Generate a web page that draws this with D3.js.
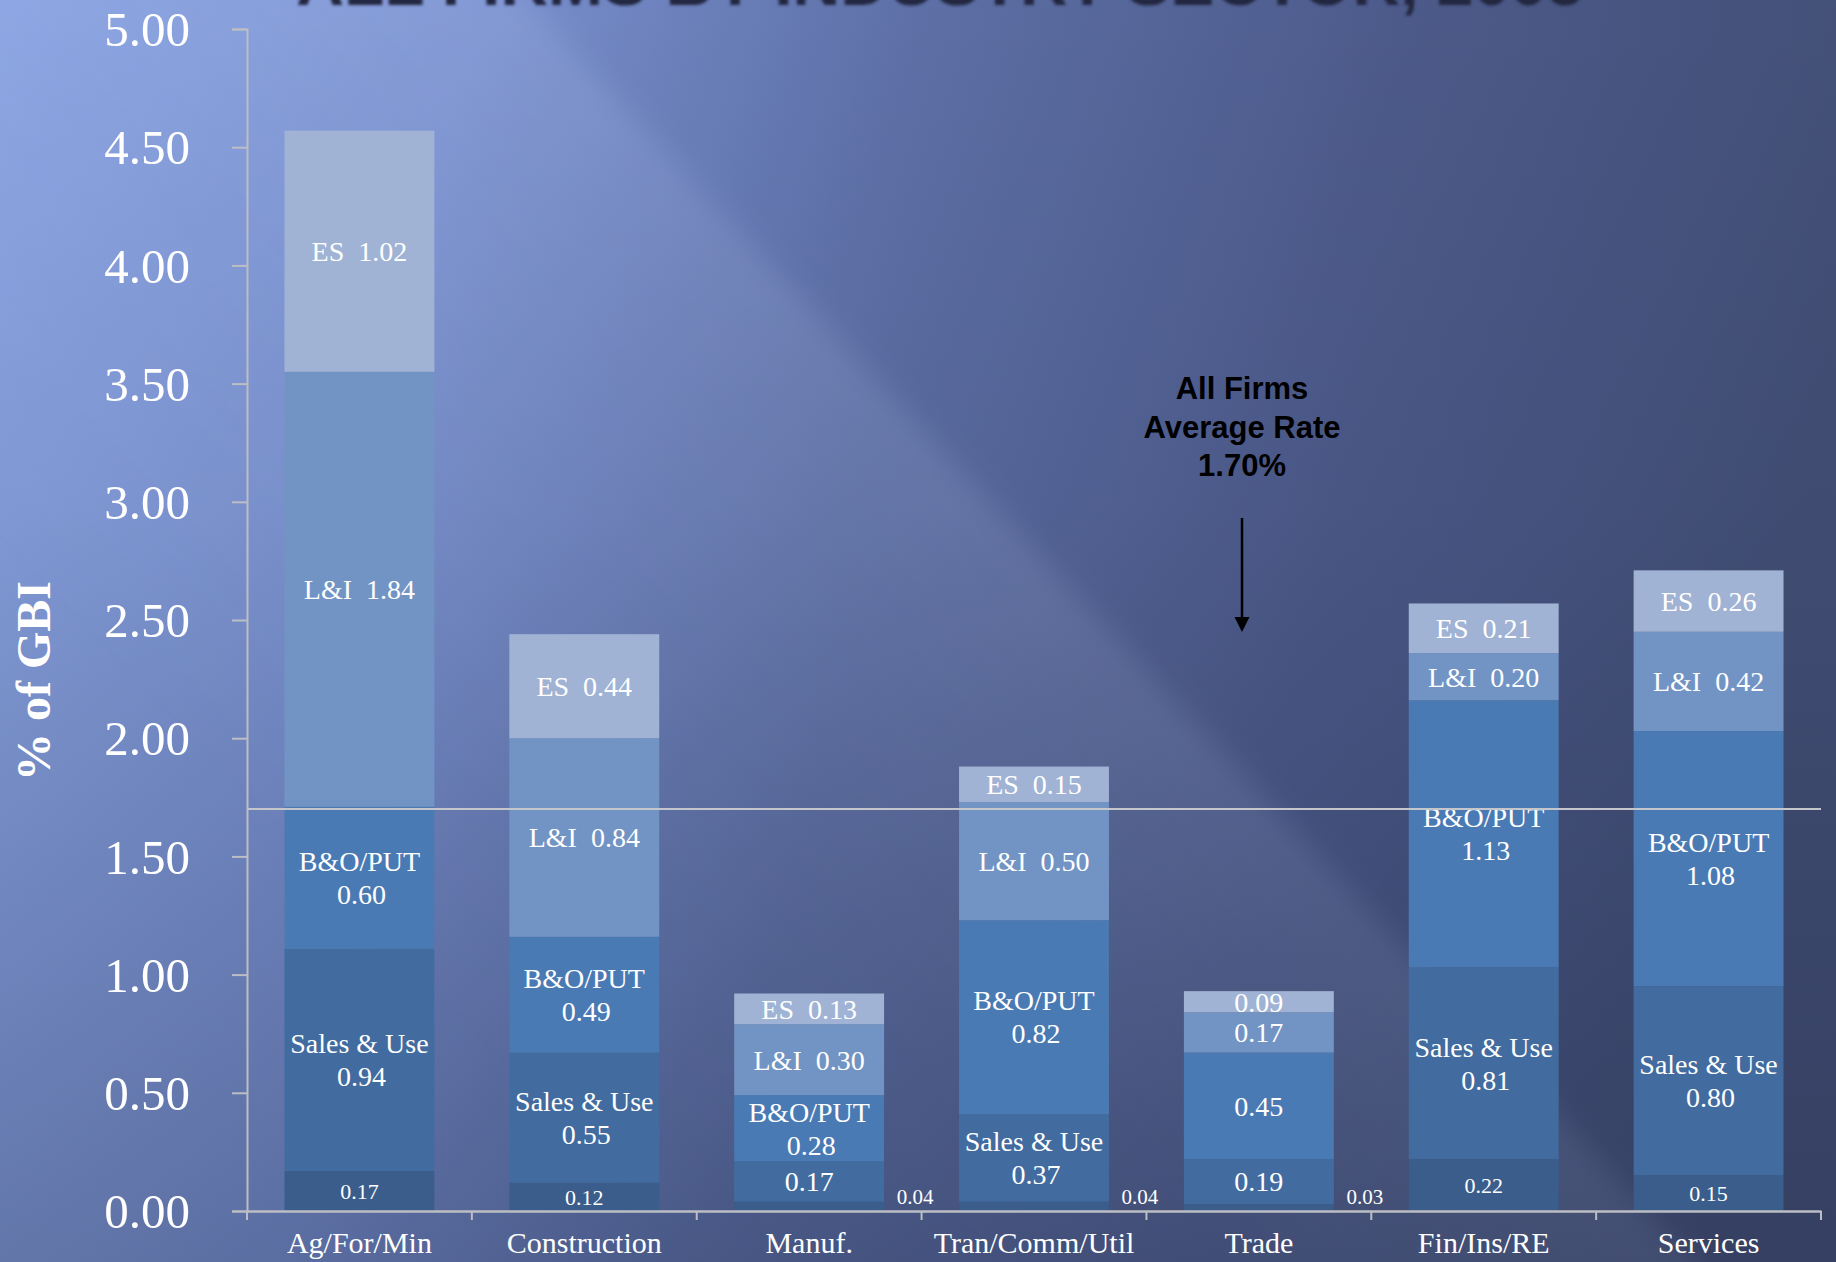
<!DOCTYPE html>
<html><head><meta charset="utf-8">
<script src="https://cdn.jsdelivr.net/npm/d3@7"></script>
<style>html,body{margin:0;padding:0;background:#5a6a9e;overflow:hidden}
text{white-space:pre}</style>
</head><body><svg id="chart" width="1836" height="1262"></svg>
<script>
// ---------- data ----------
const categories = ["Ag/For/Min","Construction","Manuf.","Tran/Comm/Util","Trade","Fin/Ins/RE","Services"];
const seriesNames = ["Other","Sales & Use","B&O/PUT","L&I","ES"];
const otherVals    = [0.17,0.12,0.04,0.04,0.03,0.22,0.15];
const salesUseVals = [0.94,0.55,0.17,0.37,0.19,0.81,0.80];
const boPutVals    = [0.60,0.49,0.28,0.82,0.45,1.13,1.08];
const liVals       = [1.84,0.84,0.30,0.50,0.17,0.20,0.42];
const esVals       = [1.02,0.44,0.13,0.15,0.09,0.21,0.26];
// whether the series name is written in the segment label
const salesUseNamed = [1,1,0,1,0,1,1];
const boPutNamed    = [1,1,1,1,0,1,1];
const liNamed       = [1,1,1,1,0,1,1];
const esNamed       = [1,1,1,1,0,1,1];
const otherOutside  = [0,0,1,1,1,0,0];
const yTickValues = [0,0.5,1,1.5,2,2.5,3,3.5,4,4.5,5];
const avgRate = 1.70;
const annotationLines = ["All Firms","Average Rate","1.70%"];
const titleText = "ALL FIRMS BY INDUSTRY SECTOR, 2005";
const yAxisTitle = "% of GBI";
const seriesColors = ["#3a5d8b","#426c9f","#4a7ab4","#7294c4","#a0b3d4"];

// ---------- setup ----------
const W = 1836, H = 1262;
const svg = d3.select("#chart");
const defs = svg.append("defs");

const bg = defs.append("linearGradient").attr("id","bg").attr("gradientUnits","userSpaceOnUse")
  .attr("x1",0).attr("y1",0).attr("x2",W).attr("y2",300);
[[0,"#8aa4e2"],[0.25,"#7990cf"],[0.5,"#5c6ea4"],[0.75,"#4c5a8a"],[1,"#434f76"]]
  .forEach(([o,c])=>bg.append("stop").attr("offset",o).attr("stop-color",c));

const band = defs.append("linearGradient").attr("id","band").attr("gradientUnits","userSpaceOnUse")
  .attr("x1",1100).attr("y1",620).attr("x2",560).attr("y2",1140);
band.append("stop").attr("offset",0).attr("stop-color","#c8d6ff").attr("stop-opacity",0.15);
band.append("stop").attr("offset",0.5).attr("stop-color","#c8d6ff").attr("stop-opacity",0.06);
band.append("stop").attr("offset",1).attr("stop-color","#c8d6ff").attr("stop-opacity",0);

const vdark = defs.append("linearGradient").attr("id","vdark").attr("x1",0).attr("y1",0).attr("x2",0).attr("y2",1);
vdark.append("stop").attr("offset",0).attr("stop-color","#101830").attr("stop-opacity",0);
vdark.append("stop").attr("offset",0.4).attr("stop-color","#101830").attr("stop-opacity",0.06);
vdark.append("stop").attr("offset",1).attr("stop-color","#101830").attr("stop-opacity",0.28);

const blur = defs.append("filter").attr("id","blur").attr("x","-5%").attr("y","-50%").attr("width","110%").attr("height","200%");
blur.append("feGaussianBlur").attr("stdDeviation",1.6);
const soft = defs.append("filter").attr("id","soft").attr("x","-20%").attr("y","-20%").attr("width","140%").attr("height","140%");
soft.append("feGaussianBlur").attr("stdDeviation",14);

svg.append("rect").attr("width",W).attr("height",H).attr("fill","url(#bg)");
svg.append("path").attr("d","M-100,-50 L480,-50 L1740,1312 L-100,1312 Z").attr("fill","url(#band)").attr("filter","url(#soft)");
svg.append("rect").attr("width",W).attr("height",H).attr("fill","url(#vdark)");

// title (clipped at top edge in the original)
svg.append("text").attr("x",940).attr("y",5).attr("text-anchor","middle")
  .attr("font-family","'Liberation Sans',Arial,sans-serif").attr("font-weight","bold")
  .attr("font-size",66).attr("fill","#23283f").attr("filter","url(#blur)").text(titleText);

// ---------- scales ----------
const x = d3.scaleBand().domain(categories).range([247,1821]).paddingInner(1/3).paddingOuter(1/6);
const y = d3.scaleLinear().domain([0,5]).range([1211,29]);

const data = categories.map((c,i)=>({cat:c,
  "Other":otherVals[i],"Sales & Use":salesUseVals[i],"B&O/PUT":boPutVals[i],"L&I":liVals[i],"ES":esVals[i]}));
const stacked = d3.stack().keys(seriesNames)(data);

// ---------- bars ----------
const layers = svg.append("g").selectAll("g").data(stacked).join("g")
  .attr("fill",(d,i)=>seriesColors[i]);
layers.selectAll("rect").data(d=>d).join("rect")
  .attr("x",d=>x(d.data.cat)).attr("width",x.bandwidth())
  .attr("y",d=>y(d[1])).attr("height",d=>y(d[0])-y(d[1]));

// ---------- labels ----------
const serif = "'Liberation Serif','Times New Roman',serif";
const lbl = svg.append("g").attr("fill","#ffffff").attr("font-family",serif).attr("text-anchor","middle");
const namedMap = {"Sales & Use":salesUseNamed,"B&O/PUT":boPutNamed,"L&I":liNamed,"ES":esNamed};
const fs = 28;
stacked.forEach((layer,si)=>{
  const key = seriesNames[si];
  layer.forEach((d,ci)=>{
    const v = d.data[key];
    const cx = x(d.data.cat) + x.bandwidth()/2;
    const cy = y((d[0]+d[1])/2);
    const num = v.toFixed(2);
    if (key === "Other") {
      if (otherOutside[ci]) {
        lbl.append("text").attr("x", x(d.data.cat)+x.bandwidth()+31).attr("y", y(0)-14)
          .attr("dy","0.35em").attr("font-size",21).text(num);
      } else {
        lbl.append("text").attr("x",cx).attr("y",cy).attr("dy","0.35em").attr("font-size",22).text(num);
      }
      return;
    }
    const named = namedMap[key][ci];
    if (!named) {
      lbl.append("text").attr("x",cx).attr("y",cy).attr("dy","0.35em").attr("font-size",fs).text(num);
    } else if (key === "ES" || key === "L&I") {
      lbl.append("text").attr("x",cx).attr("y",cy).attr("dy","0.35em").attr("font-size",fs)
        .text(key + "\u00A0\u00A0" + num);
    } else {
      lbl.append("text").attr("x",cx).attr("y",cy-16.5).attr("dy","0.35em").attr("font-size",fs).text(key);
      lbl.append("text").attr("x",cx+2).attr("y",cy+16.5).attr("dy","0.35em").attr("font-size",fs).text(num);
    }
  });
});

// ---------- average line ----------
svg.append("line").attr("x1",247).attr("x2",1821).attr("y1",y(avgRate)).attr("y2",y(avgRate))
  .attr("stroke","#c4c6cc").attr("stroke-width",2);

// ---------- axes ----------
const axisColor = "#bcbec4";
const yAxis = svg.append("g").attr("transform","translate(247,0)")
  .call(d3.axisLeft(y).tickValues(yTickValues).tickFormat(d3.format(".2f")).tickSize(15).tickPadding(42));
yAxis.select(".domain").attr("stroke",axisColor).attr("stroke-width",2);
yAxis.selectAll(".tick line").attr("stroke",axisColor).attr("stroke-width",2);
yAxis.selectAll(".tick text").attr("fill","#fff").attr("font-family",serif).attr("font-size",49).attr("dy","0.34em");

const xAxis = svg.append("g").attr("transform",`translate(0,${y(0)})`)
  .call(d3.axisBottom(x).tickSize(0).tickPadding(0));
xAxis.select(".domain").attr("stroke",axisColor).attr("stroke-width",2.5);
xAxis.selectAll(".tick text").attr("fill","#fff").attr("font-family",serif).attr("font-size",30)
  .attr("y",42).attr("dy",0);
const bounds = categories.map(c=>x(c)-x.step()*x.paddingOuter()).concat([x.range()[1]]);
xAxis.selectAll(".bound").data(bounds).join("line").attr("class","bound")
  .attr("x1",d=>d).attr("x2",d=>d).attr("y1",0).attr("y2",9)
  .attr("stroke",axisColor).attr("stroke-width",2);

// y title
svg.append("text").attr("transform","translate(33,681) rotate(-90)").attr("text-anchor","middle")
  .attr("dy","0.35em").attr("font-family",serif).attr("font-weight","bold").attr("font-size",48)
  .attr("fill","#fff").text(yAxisTitle);

// ---------- annotation ----------
const ann = svg.append("g").attr("font-family","'Liberation Sans',Arial,sans-serif").attr("font-weight","bold")
  .attr("font-size",31).attr("fill","#000").attr("text-anchor","middle");
annotationLines.forEach((t,i)=>ann.append("text").attr("x",1242).attr("y",399+i*38.5).text(t));
svg.append("line").attr("x1",1242).attr("x2",1242).attr("y1",518).attr("y2",620)
  .attr("stroke","#000").attr("stroke-width",2.5);
svg.append("path").attr("d","M1234.5,617 L1249.5,617 L1242,632 Z").attr("fill","#000");
</script></body></html>
